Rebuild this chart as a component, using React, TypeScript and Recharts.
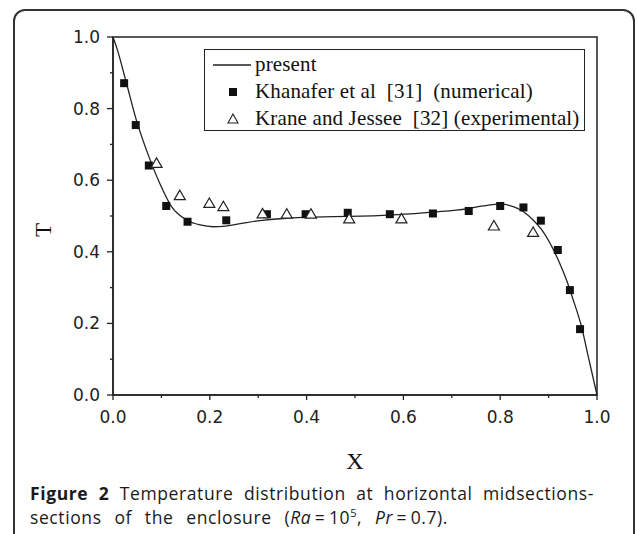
import React from "react"
import {
  ComposedChart,
  Line,
  Scatter,
  XAxis,
  YAxis,
  Legend,
  ReferenceArea,
} from "recharts"

// present simulation (solid curve)
const presentX = [0, 0.01, 0.027, 0.05, 0.073, 0.097, 0.121, 0.152, 0.18, 0.207, 0.228, 0.269, 0.304, 0.352, 0.407, 0.455, 0.558, 0.614, 0.661, 0.731, 0.765, 0.802, 0.827, 0.848, 0.868, 0.886, 0.903, 0.92, 0.937, 0.951, 0.968, 0.982, 1.0]
const presentT = [1.0, 0.96, 0.875, 0.76, 0.67, 0.59, 0.526, 0.489, 0.475, 0.47, 0.471, 0.48, 0.487, 0.493, 0.497, 0.498, 0.502, 0.506, 0.511, 0.52, 0.528, 0.533, 0.526, 0.512, 0.489, 0.461, 0.424, 0.377, 0.321, 0.265, 0.191, 0.107, 0.0]

// Khanafer et al [31] (numerical)
const khanaferX = [0.023, 0.047, 0.074, 0.11, 0.154, 0.234, 0.318, 0.398, 0.485, 0.572, 0.661, 0.735, 0.8, 0.848, 0.884, 0.919, 0.944, 0.965]
const khanaferT = [0.871, 0.754, 0.641, 0.528, 0.484, 0.488, 0.505, 0.505, 0.509, 0.505, 0.507, 0.514, 0.528, 0.524, 0.487, 0.405, 0.293, 0.184]

// Krane and Jessee [32] (experimental)
const kraneX = [0.09, 0.138, 0.199, 0.228, 0.309, 0.359, 0.409, 0.488, 0.596, 0.787, 0.868]
const kraneT = [0.647, 0.557, 0.535, 0.526, 0.506, 0.505, 0.505, 0.492, 0.492, 0.472, 0.454]

const axisTicks = [0, 0.1, 0.2, 0.3, 0.4, 0.5, 0.6, 0.7, 0.8, 0.9, 1.0]

const presentData = presentX.map((x, i) => ({ x, t: presentT[i] }))
const khanaferData = khanaferX.map((x, i) => ({ x, t: khanaferT[i] }))
const kraneData = kraneX.map((x, i) => ({ x, t: kraneT[i] }))

const ink = "#222"
const tickFont = "'DejaVu Sans', sans-serif"
const serif = "'Liberation Serif', 'Times New Roman', serif"

const isMajor = (v: number) => Math.round(v * 10) % 2 === 0

function XTick({ x, y, payload }: any) {
  const major = isMajor(payload.value)
  return (
    <g>
      <line x1={x} x2={x} y1={y} y2={y + (major ? 5 : 3)} stroke={ink} strokeWidth={1.3} />
      {major && (
        <text x={x} y={y + 28} textAnchor="middle" fontSize={17} fontFamily={tickFont} fill={ink}>
          {payload.value.toFixed(1)}
        </text>
      )}
    </g>
  )
}

function YTick({ x, y, payload }: any) {
  const major = isMajor(payload.value)
  return (
    <g>
      <line x1={x} x2={x - (major ? 6 : 3)} y1={y} y2={y} stroke={ink} strokeWidth={1.3} />
      {major && (
        <text x={x - 13} y={y + 6} textAnchor="end" fontSize={17} fontFamily={tickFont} fill={ink}>
          {payload.value.toFixed(1)}
        </text>
      )}
    </g>
  )
}

function Square({ cx, cy }: any) {
  return <rect x={cx - 4} y={cy - 4} width={8} height={8} fill="#111" />
}

function Triangle({ cx, cy }: any) {
  return (
    <polygon
      points={`${cx},${cy - 5.5} ${cx - 5.5},${cy + 4} ${cx + 5.5},${cy + 4}`}
      fill="#fff"
      stroke={ink}
      strokeWidth={1.2}
    />
  )
}

function LegendBox() {
  const row = { display: "flex", alignItems: "center", height: 27 }
  const label = { fontFamily: serif, fontSize: 21, letterSpacing: 0.15, color: "#111", whiteSpace: "pre" as const }
  return (
    <div style={{ border: `1.5px solid ${ink}`, width: 381, height: 82, boxSizing: "border-box", padding: "1px 0 0 8px", background: "#fff" }}>
      <div style={row}>
        <svg width={42} height={10}>
          <line x1={0} x2={38} y1={5} y2={5} stroke={ink} strokeWidth={1.3} />
        </svg>
        <span style={label}>present</span>
      </div>
      <div style={row}>
        <svg width={42} height={12}>
          <rect x={16} y={2} width={8} height={8} fill="#111" />
        </svg>
        <span style={label}>Khanafer et al  [31]  (numerical)</span>
      </div>
      <div style={row}>
        <svg width={42} height={12}>
          <polygon points="20,1 15,10 25,10" fill="#fff" stroke={ink} strokeWidth={1.1} />
        </svg>
        <span style={label}>Krane and Jessee  [32] (experimental)</span>
      </div>
    </div>
  )
}

const captionLine = {
  display: "block",
  textAlign: "justify" as const,
  textAlignLast: "justify" as const,
  whiteSpace: "normal" as const,
  height: 24,
}

export default function App() {
  return (
    <div style={{ position: "absolute", left: 0, top: 0, width: 637, height: 534, overflow: "hidden", background: "#fff" }}>
      <div
        style={{
          position: "absolute",
          left: 13,
          top: 9,
          width: 622,
          height: 560,
          border: "2px solid #333",
          borderRadius: 12,
          boxSizing: "border-box",
        }}
      />
      <div style={{ position: "absolute", left: 0, top: 0 }}>
        <ComposedChart width={637} height={534} margin={{ top: 37, right: 40, bottom: 74, left: 0 }}>
          <XAxis
            type="number"
            dataKey="x"
            domain={[0, 1]}
            ticks={axisTicks}
            interval={0}
            height={65}
            tickSize={0}
            tickMargin={0}
            tick={<XTick />}
            axisLine={{ stroke: ink, strokeWidth: 1.5 }}
            label={{
              content: ({ viewBox }: any) => (
                <text x={viewBox.x + viewBox.width / 2} y={viewBox.y + 74} textAnchor="middle" fontSize={24} fontFamily={serif} fill="#111">
                  X
                </text>
              ),
            }}
          />
          <YAxis
            type="number"
            dataKey="t"
            domain={[0, 1]}
            ticks={axisTicks}
            interval={0}
            width={113}
            tickSize={0}
            tickMargin={0}
            tick={<YTick />}
            axisLine={{ stroke: ink, strokeWidth: 1.5 }}
            label={{
              content: ({ viewBox }: any) => (
                <text
                  x={43}
                  y={viewBox.y + 193}
                  transform={`rotate(-90, 43, ${viewBox.y + 193})`}
                  textAnchor="middle"
                  dominantBaseline="central"
                  fontSize={23}
                  fontFamily={serif}
                  fill="#111"
                >
                  T
                </text>
              ),
            }}
          />
          <ReferenceArea x1={0} x2={1} y1={0} y2={1} fill="none" stroke={ink} strokeWidth={1.5} />
          <Line
            data={presentData}
            dataKey="t"
            name="present"
            type="monotone"
            dot={false}
            stroke={ink}
            strokeWidth={1.3}
            isAnimationActive={false}
          />
          <Scatter data={khanaferData} dataKey="t" name="Khanafer et al [31] (numerical)" shape={<Square />} isAnimationActive={false} />
          <Scatter data={kraneData} dataKey="t" name="Krane and Jessee [32] (experimental)" shape={<Triangle />} isAnimationActive={false} />
          <Legend
            layout="vertical"
            align="center"
            verticalAlign="middle"
            content={() => <LegendBox />}
            wrapperStyle={{ left: 204, top: 49, width: 381, height: 82 }}
          />
        </ComposedChart>
      </div>
      <div
        style={{
          position: "absolute",
          left: 30,
          top: 481,
          fontFamily: "'Open Sans', sans-serif",
          fontSize: 17.5,
          letterSpacing: 0.6,
          lineHeight: "24px",
          color: "#1a1a1a",
        }}
      >
        <div style={{ ...captionLine, width: 564 }}>
          <b>Figure 2</b> Temperature distribution at horizontal midsections-
        </div>
        <div style={{ ...captionLine, width: 418 }}>
          sections of the enclosure (<i>Ra</i>&thinsp;=&thinsp;10<sup style={{ fontSize: 11, lineHeight: 0 }}>5</sup>, <i>Pr</i>&thinsp;=&thinsp;0.7).
        </div>
      </div>
    </div>
  )
}
